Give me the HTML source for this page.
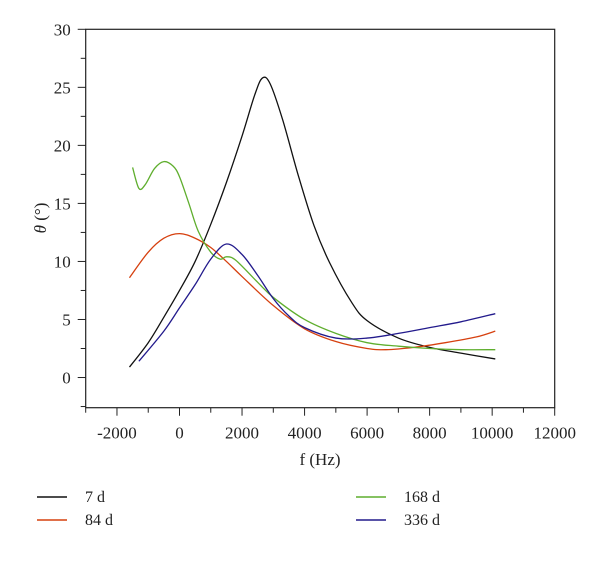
<!DOCTYPE html>
<html><head><meta charset="utf-8"><style>
body{margin:0;background:#fff;}
svg text{font-family:"Liberation Serif",serif;fill:#222;}
</style></head><body>
<svg id="chart" width="600" height="558" viewBox="0 0 600 558" xmlns="http://www.w3.org/2000/svg">
<g id="axes"></g><g id="series"></g><g id="legend"></g>
</svg>
<script>
const xTicks=[-2000,0,2000,4000,6000,8000,10000,12000];
const yTicks=[0,5,10,15,20,25,30];
const seriesNames=["7 d","84 d","168 d","336 d"];
const seriesColors=["#111111","#d6400f","#5fae2e","#221a8c"];
const f7=[-1600,-1000,-500,0,500,1000,1500,2000,2400,2650,2900,3300,3800,4300,4800,5500,6000,7000,8000,9000,10100];
const v7=[0.9,3,5.2,7.5,10,13.2,16.8,20.8,24.3,25.8,25.3,22.2,17.4,13.1,9.9,6.5,4.9,3.4,2.6,2.1,1.6];
const f84=[-1600,-1000,-500,0,500,1000,1500,2000,3000,4000,5000,6000,6600,7500,8500,9500,10100];
const v84=[8.6,10.8,12,12.4,12,11.2,10,8.7,6.2,4.2,3.1,2.5,2.4,2.6,3,3.5,4];
const f168=[-1500,-1300,-1100,-800,-500,-200,0,300,600,1000,1300,1500,1800,2500,3000,4000,5000,6000,7000,8000,9000,10100];
const v168=[18.1,16.3,16.6,18,18.6,18.2,17.3,15,12.6,10.8,10.2,10.4,10.1,8.2,6.9,5,3.8,3,2.7,2.5,2.4,2.4];
const f336=[-1300,-500,0,500,1000,1500,2000,2500,3000,3500,4000,5000,6000,7000,8000,9000,10100];
const v336=[1.4,4,6,8,10.2,11.5,10.6,8.8,6.8,5.3,4.3,3.4,3.4,3.8,4.3,4.8,5.5];
const allF=[f7,f84,f168,f336], allV=[v7,v84,v168,v336];
const NS="http://www.w3.org/2000/svg";
const X0=-3000,X1=12000,Y0=-2.6,Y1=30;
const L=85.7,R=554.7,T=29.3,B=407.7;
function sx(f){return L+(f-X0)/(X1-X0)*(R-L);}
function sy(v){return B-(v-Y0)/(Y1-Y0)*(B-T);}
function mk(tag,attrs,parent){const e=document.createElementNS(NS,tag);for(const k in attrs)e.setAttribute(k,attrs[k]);parent.appendChild(e);return e;}
const ax=document.getElementById('axes');
const frame=mk('rect',{x:L,y:T,width:R-L,height:B-T,fill:'none',stroke:'#222','stroke-width':1.2},ax);


for(let f=-3000;f<=12000;f+=1000){const major=f%2000===0;
 const t=mk('line',{x1:sx(f),x2:sx(f),y1:B,y2:B+(major?8:5),stroke:'#222','stroke-width':1},ax);
 
 }
xTicks.forEach(f=>{const t=mk('text',{x:sx(f),y:B+31,'text-anchor':'middle','font-size':17},ax);t.textContent=f;
 
 });
for(let v=-2.5;v<=30;v+=2.5){const major=v%5===0;
 const t=mk('line',{x1:L,x2:L-(major?8:5),y1:sy(v),y2:sy(v),stroke:'#222','stroke-width':1},ax);
 
 }
yTicks.forEach(v=>{const t=mk('text',{x:L-15,y:sy(v)+6,'text-anchor':'end','font-size':17},ax);t.textContent=v;
 
 });
const xt=mk('text',{x:320,y:465,'text-anchor':'middle','font-size':17},ax);xt.textContent='f (Hz)';


const yt=mk('text',{x:0,y:0,'text-anchor':'middle','font-size':17,transform:'translate(46,218) rotate(-90)'},ax);
yt.innerHTML='<tspan font-style="italic">θ</tspan> (°)';


function smooth(pts){let d='M'+pts[0][0]+','+pts[0][1];
 for(let i=0;i<pts.length-1;i++){const p0=pts[Math.max(0,i-1)],p1=pts[i],p2=pts[i+1],p3=pts[Math.min(pts.length-1,i+2)];
  const c1=[p1[0]+(p2[0]-p0[0])/6,p1[1]+(p2[1]-p0[1])/6],c2=[p2[0]-(p3[0]-p1[0])/6,p2[1]-(p3[1]-p1[1])/6];
  d+=' C'+c1.join(',')+' '+c2.join(',')+' '+p2.join(',');}
 return d;}
const sg=document.getElementById('series');
allF.forEach((fs,i)=>{const pts=fs.map((f,j)=>[sx(f),sy(allV[i][j])]);
 const p=mk('path',{d:smooth(pts),fill:'none',stroke:seriesColors[i],'stroke-width':1.3},sg);
 
 });
const lg=document.getElementById('legend');
const lpos=[[37,497],[37,520],[356,497],[356,520]];
seriesNames.forEach((n,i)=>{const [x,y]=lpos[i];
 const l=mk('line',{x1:x,x2:x+30,y1:y,y2:y,stroke:seriesColors[i],'stroke-width':1.5},lg);
 
 
 const t=mk('text',{x:x+48,y:y+5,'font-size':16},lg);t.textContent=n;
 
 });
</script>
</body></html>
